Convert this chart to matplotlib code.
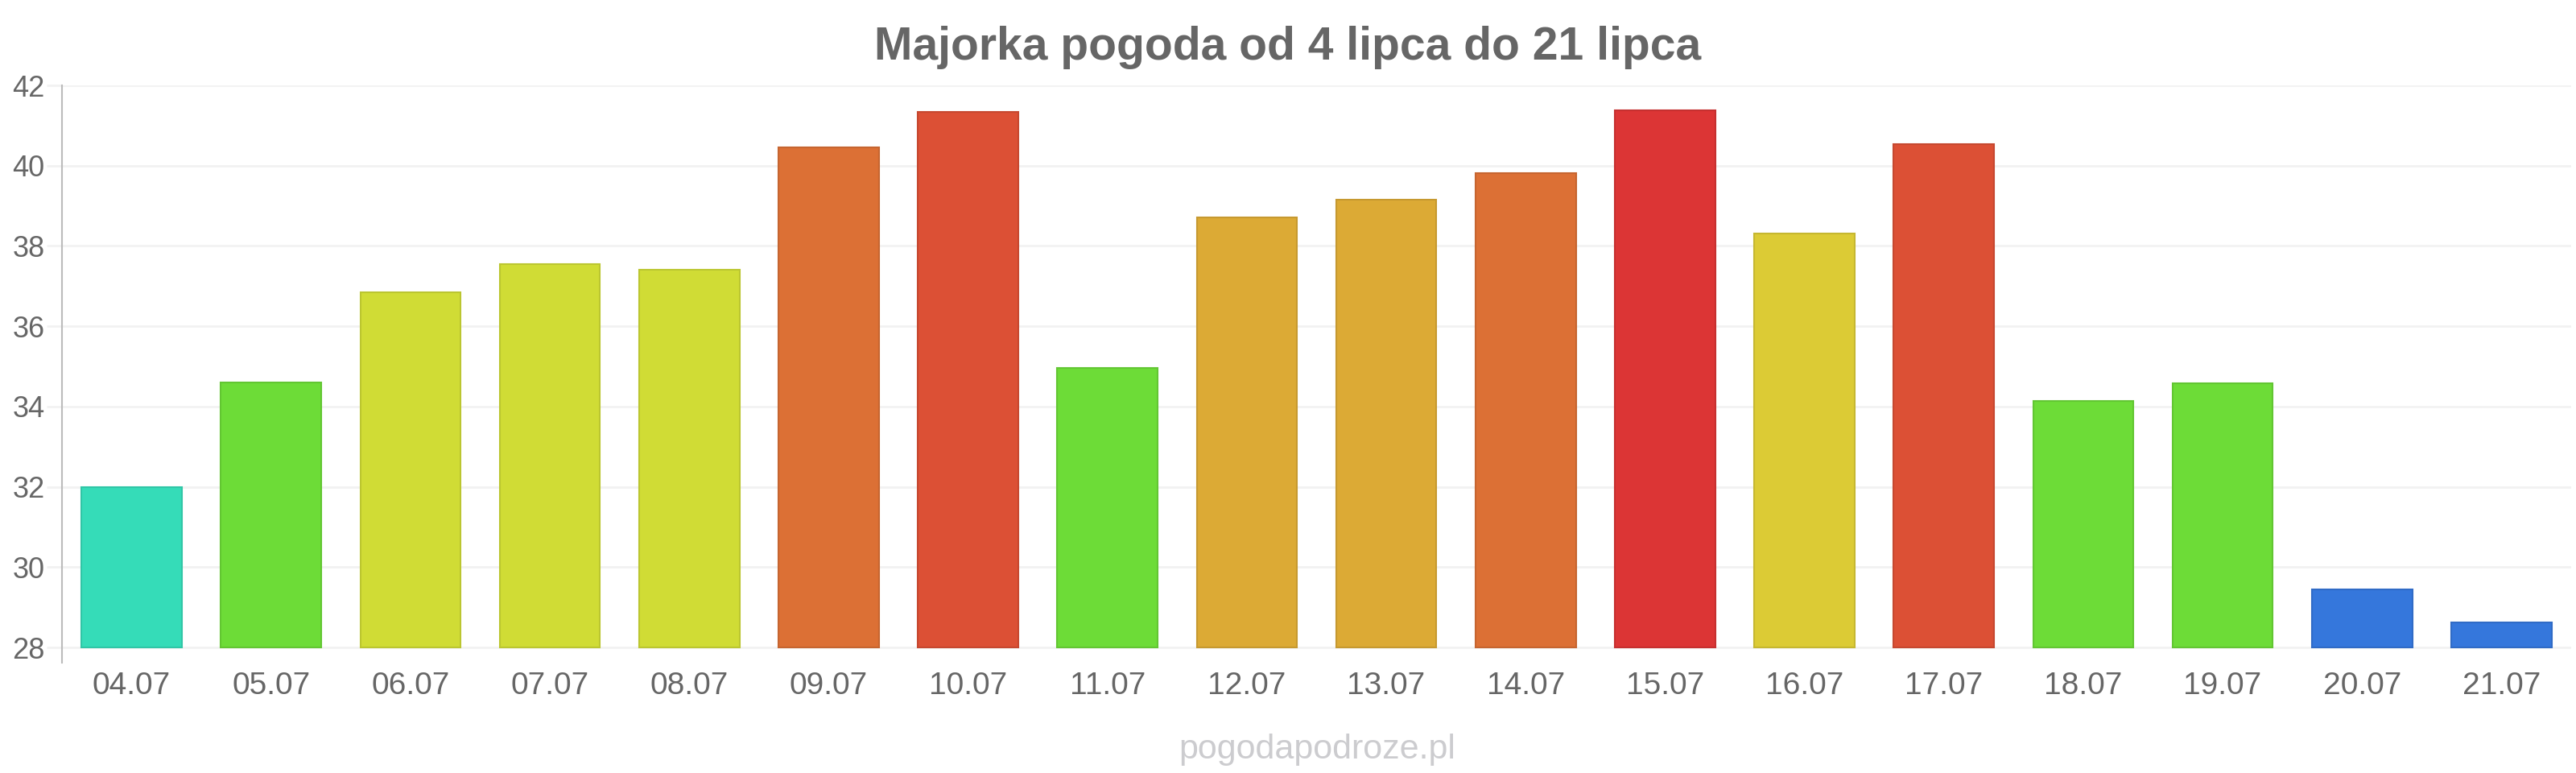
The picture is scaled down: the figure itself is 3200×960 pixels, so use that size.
import matplotlib
matplotlib.use("Agg")
import matplotlib.pyplot as plt
import matplotlib.colors as mcolors

# data
days = ["04.07", "05.07", "06.07", "07.07", "08.07", "09.07", "10.07", "11.07", "12.07",
        "13.07", "14.07", "15.07", "16.07", "17.07", "18.07", "19.07", "20.07", "21.07"]
temps = [32.0, 34.6, 36.85, 37.55, 37.4, 40.45, 41.33, 34.95, 38.72,
         39.16, 39.82, 41.38, 38.3, 40.54, 34.14, 34.57, 29.45, 28.63]
bar_colors = ["#35dcb8", "#6ddc37", "#d0dc35", "#d0dc35", "#d0dc35", "#dc7035", "#dc5035",
              "#6ddc37", "#dcaa35", "#dcaa35", "#dc7035", "#dc3535", "#dccb35", "#dc5035",
              "#6ddc37", "#6ddc37", "#3577dc", "#3577dc"]
y_ticks = [28, 30, 32, 34, 36, 38, 40, 42]

title = "Majorka pogoda od 4 lipca do 21 lipca"
watermark = "pogodapodroze.pl"

plt.rcParams["font.family"] = ["Liberation Sans", "DejaVu Sans"]
text_color = "#666666"
grid_color = "#f2f2f2"


def darker(c, f=0.9):
    r, g, b = mcolors.to_rgb(c)
    return (r * f, g * f, b * f)


fig = plt.figure(figsize=(32, 9.6), dpi=100)
ax = fig.add_axes([77 / 3200, 137 / 960, 3117 / 3200, 717 / 960])

x = list(range(len(days)))
heights = [t - 28 for t in temps]
ax.bar(x, heights, bottom=28, width=0.72, color=bar_colors,
       edgecolor=[darker(c) for c in bar_colors], linewidth=1.5, zorder=3)

ax.set_xlim(-0.5, len(days) - 0.5)
ax.set_ylim(28 - 19 / 49.86, 42)

ax.set_yticks(y_ticks)
ax.set_yticklabels([str(v) for v in y_ticks])
ax.set_xticks(x)
ax.set_xticklabels(days)

ax.grid(axis="y", color=grid_color, linewidth=2, zorder=0)
ax.tick_params(axis="y", length=14, width=2, color=grid_color, pad=1.5,
               labelsize=26, labelcolor=text_color)
ax.tick_params(axis="x", length=0, pad=8, labelsize=28, labelcolor=text_color)

for s in ["top", "right", "bottom"]:
    ax.spines[s].set_visible(False)
ax.spines["left"].set_color("#bbbbbb")
ax.spines["left"].set_linewidth(1.5)

fig.text(0.5, 1 - 74 / 960, title, ha="center", va="baseline",
         fontsize=41, fontweight="bold", color=text_color)
fig.text(1636 / 3200, 1 - 942 / 960, watermark, ha="center", va="baseline",
         fontsize=31, color="#cccccf")

fig.savefig("out.png", dpi=100, facecolor="white")
